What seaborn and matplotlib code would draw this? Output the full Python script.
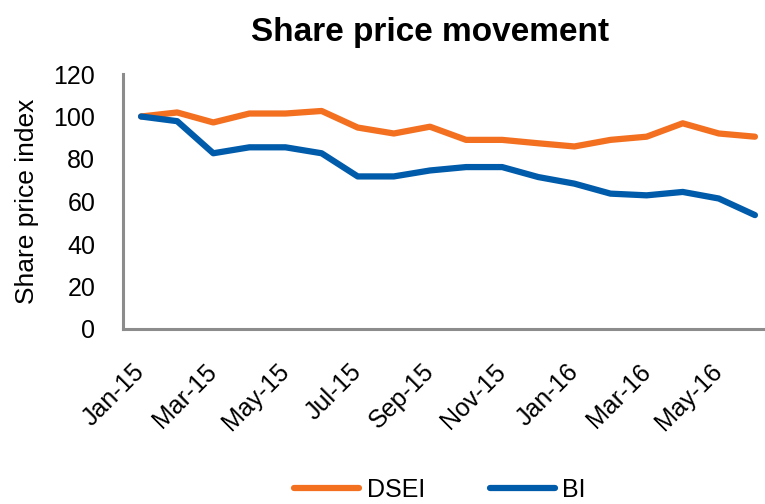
import pandas as pd
import matplotlib.pyplot as plt
import seaborn as sns

# data (monthly index, Jan-15 = 100)
months = ['Jan-15', 'Feb-15', 'Mar-15', 'Apr-15', 'May-15', 'Jun-15',
          'Jul-15', 'Aug-15', 'Sep-15', 'Oct-15', 'Nov-15', 'Dec-15',
          'Jan-16', 'Feb-16', 'Mar-16', 'Apr-16', 'May-16', 'Jun-16']
dsei = [100, 101.9, 97.2, 101.4, 101.4, 102.6, 94.8, 92.0, 95.2,
        89.0, 89.0, 87.4, 85.9, 89.0, 90.5, 96.8, 92.0, 90.5]
bi = [100, 97.8, 82.7, 85.5, 85.5, 82.7, 71.8, 71.8, 74.6,
      76.2, 76.2, 71.5, 68.4, 63.7, 62.9, 64.5, 61.4, 53.6]
series_names = ['DSEI', 'BI']
colors = ['#F37021', '#005BAA']

df = pd.DataFrame({'month': months * 2,
                   'idx': list(range(len(months))) * 2,
                   'value': dsei + bi,
                   'series': ['DSEI'] * len(dsei) + ['BI'] * len(bi)})

sns.set_style('white')
plt.rcParams['font.family'] = ['Liberation Sans', 'DejaVu Sans']
plt.rcParams['text.color'] = 'black'
plt.rcParams['axes.labelcolor'] = 'black'
plt.rcParams['xtick.color'] = 'black'
plt.rcParams['ytick.color'] = 'black'

fig = plt.figure(figsize=(7.65, 5.04), dpi=100)
ax = fig.add_axes([123 / 765, 175 / 504, 650 / 765, 255 / 504])

sns.lineplot(data=df, x='idx', y='value', hue='series', hue_order=series_names,
             palette=colors, linewidth=4.5, ax=ax, legend=True,
             solid_capstyle='round')

ax.set_xlim(-0.5, 17.5)
ax.set_ylim(0, 120)
ax.set_yticks(range(0, 121, 20))
ax.set_xticks(range(0, len(months), 2))
ax.set_xticklabels(months[::2], rotation=45, ha='right', va='center',
                   rotation_mode='anchor', fontsize=18)
ax.tick_params(axis='x', length=0, pad=28)
ax.tick_params(axis='y', length=0, pad=20, labelsize=18)
ax.set_xlabel('')
ax.set_ylabel('Share price index', fontsize=19, labelpad=10)

for side in ['top', 'right']:
    ax.spines[side].set_visible(False)
for side in ['left', 'bottom']:
    ax.spines[side].set_color('#8c8c8c')
    ax.spines[side].set_linewidth(2.2)

fig.text(430 / 765, 1 - 32 / 504, 'Share price movement', ha='center',
         va='center', fontsize=24, fontweight='bold')

handles, labels = ax.get_legend_handles_labels()
ax.legend(handles, labels, loc='center', bbox_to_anchor=(440 / 765, 14 / 504),
          bbox_transform=fig.transFigure, ncol=2, frameon=False, fontsize=18,
          handlelength=2.6, handletextpad=0.3, columnspacing=2.6,
          borderpad=0.1)

fig.savefig('out.png', dpi=100)
